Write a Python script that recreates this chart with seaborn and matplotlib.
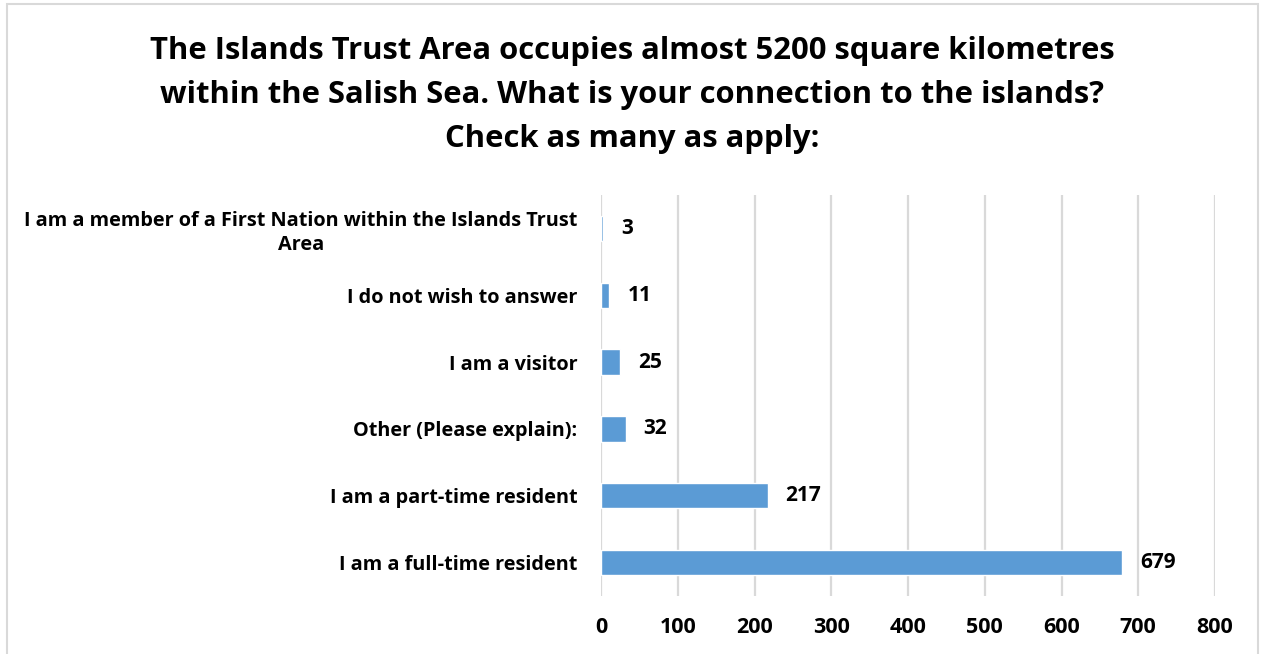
import matplotlib
matplotlib.use("Agg")
import matplotlib.pyplot as plt
import seaborn as sns
import pandas as pd
from matplotlib.patches import Rectangle

categories = [
    "I am a member of a First Nation within the Islands Trust\nArea",
    "I do not wish to answer",
    "I am a visitor",
    "Other (Please explain):",
    "I am a part-time resident",
    "I am a full-time resident",
]
values = [3, 11, 25, 32, 217, 679]
x_ticks = [0, 100, 200, 300, 400, 500, 600, 700, 800]
title = ("The Islands Trust Area occupies almost 5200 square kilometres\n"
         "within the Salish Sea. What is your connection to the islands?\n"
         "Check as many as apply:")

sns.set_theme(style="white")
plt.rcParams['font.family'] = ['Open Sans', 'DejaVu Sans']
plt.rcParams['text.color'] = 'black'
plt.rcParams['xtick.color'] = 'black'
plt.rcParams['ytick.color'] = 'black'

df = pd.DataFrame({"cat": categories, "val": values})

fig = plt.figure(figsize=(12.65, 6.54), dpi=100)
ax = fig.add_axes([601/1265, 1-596/654, (1215-601)/1265, (596-195)/654])

sns.barplot(data=df, x="val", y="cat", order=categories, color="#5B9BD5",
            width=0.38, saturation=1, ax=ax, zorder=3)

ax.set_xlim(0, 800)
ax.set_xticks(x_ticks)
ax.set_xticklabels([str(t) for t in x_ticks], fontsize=15.5, fontweight='bold',
                   color='black')
ax.grid(axis='x', color='#D9D9D9', linewidth=1.6, zorder=0)
ax.grid(axis='y', visible=False)
ax.set_axisbelow(True)
for s in ax.spines.values():
    s.set_visible(False)
ax.tick_params(axis='x', length=0, pad=15)
ax.tick_params(axis='y', length=0, pad=17)
ax.set_xlabel("")
ax.set_ylabel("")
ax.set_yticks(range(len(categories)))
ax.set_yticklabels(categories, fontsize=14.3, fontweight='bold', color='black',
                   multialignment='center', linespacing=1.3)

for c in ax.containers:
    ax.bar_label(c, labels=[str(v) for v in values], padding=13,
                 fontsize=15, fontweight='bold', color='black')

fig.text(0.5, 1-95/654, title, ha='center', va='center', fontsize=22.3,
         fontweight='bold', linespacing=1.62, color='black')

fig.patches.append(Rectangle((7/1265, -0.05), (1258-7)/1265, 1.05-4/654,
                             transform=fig.transFigure, fill=False,
                             edgecolor='#D9D9D9', linewidth=1.5))

fig.savefig("out.png", dpi=100)
